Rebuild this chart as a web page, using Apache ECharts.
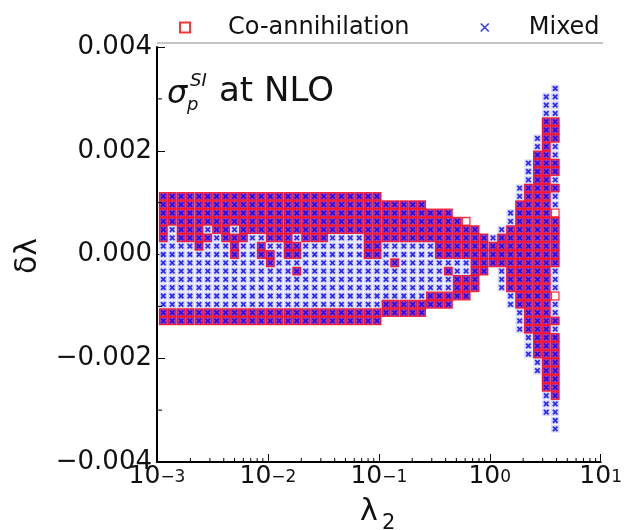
<!DOCTYPE html>
<html><head><meta charset="utf-8">
<script src="https://cdn.jsdelivr.net/npm/echarts@6/dist/echarts.min.js"></script>
<style>html,body{margin:0;padding:0;background:#fff}#c{width:625px;height:530px}</style>
</head><body><div id="c"></div>
<script>
// lambda_2 values of the scan columns (log grid)
const lambda2 = [0.00114, 0.00137, 0.00165, 0.00198, 0.00239, 0.00287, 0.00345, 0.00416, 0.00500, 0.00601,
  0.00724, 0.00871, 0.0105, 0.0126, 0.0152, 0.0182, 0.0219, 0.0264, 0.0318, 0.0382,
  0.0460, 0.0553, 0.0666, 0.0801, 0.0963, 0.116, 0.139, 0.168, 0.202, 0.243,
  0.292, 0.351, 0.423, 0.509, 0.612, 0.736, 0.886, 1.07, 1.28, 1.54,
  1.86, 2.23, 2.69, 3.23, 3.89];
// delta lambda values of the scan rows, row index r = k + 21
const deltaRows = [-0.00336, -0.0032, -0.00304, -0.00288, -0.00272, -0.00256, -0.0024, -0.00224, -0.00208, -0.00192,
  -0.00176, -0.0016, -0.00144, -0.00128, -0.00112, -0.00096, -0.0008, -0.00064, -0.00048, -0.00032,
  -0.00016, 0, 0.00016, 0.00032, 0.00048, 0.00064, 0.0008, 0.00096, 0.00112, 0.00128,
  0.00144, 0.0016, 0.00176, 0.00192, 0.00208, 0.00224, 0.0024, 0.00256, 0.00272, 0.00288,
  0.00304, 0.0032];
const rowZero = 21;
// per column: row ranges [kLow, kHigh] occupied by "Mixed" points
const mixedRanges = [
  [[-8,7]],[[-8,7]],[[-8,7]],[[-8,7]],[[-8,7]],[[-8,7]],[[-8,7]],[[-8,7]],[[-8,7]],[[-8,7]],
  [[-8,7]],[[-8,7]],[[-8,7]],[[-8,7]],[[-8,7]],[[-8,7]],[[-8,7]],[[-8,7]],[[-8,7]],[[-8,7]],
  [[-8,7]],[[-8,7]],[[-8,7]],[[-8,7]],[[-8,7]],
  [[-7,6]],[[-7,6]],[[-7,6]],[[-7,6]],[[-7,6]],
  [[-6,5]],[[-6,5]],[[-6,5]],[[-5,4]],[[-5,3]],[[-4,3]],[[-2,2]],[[-1,2]],[[-4,3]],[[-6,5]],
  [[-9,8]],[[-12,11]],[[-14,14]],[[-19,19]],[[-21,-6],[-4,4],[6,20]]
];
// per column: row ranges occupied by "Co-annihilation" points
const coRanges = [
  [[-8,-7],[2,7]],
  [[-8,-7],[4,7]],
  [[-8,-7],[2,7]],
  [[-8,-7],[2,7]],
  [[-8,-7],[1,7]],
  [[-8,-7],[2,2],[4,7]],
  [[-8,-7],[3,7]],
  [[-8,-7],[2,7]],
  [[-8,-7],[0,2],[4,7]],
  [[-8,-7],[2,7]],
  [[-8,-7],[3,7]],
  [[-8,-7],[0,1],[3,7]],
  [[-8,-7],[-1,0],[2,7]],
  [[-8,-7],[2,7]],
  [[-8,-7],[0,7]],
  [[-8,-7],[-2,-2],[0,1],[3,7]],
  [[-8,-7],[2,7]],
  [[-8,-7],[2,7]],
  [[-8,-7],[2,7]],
  [[-8,-7],[3,7]],
  [[-8,-7],[3,7]],
  [[-8,-7],[3,7]],
  [[-8,-7],[3,7]],
  [[-8,-7],[0,7]],
  [[-8,-7],[0,7]],
  [[-7,-6],[2,6]],
  [[-7,-6],[-1,-1],[2,6]],
  [[-7,-6],[2,6]],
  [[-7,-6],[2,6]],
  [[-7,-6],[2,6]],
  [[-6,-5],[2,5]],
  [[-6,-5],[0,5]],
  [[-6,-5],[-2,-2],[0,5]],
  [[-5,-3],[0,4]],
  [[-5,-3],[0,4]],
  [[-4,3]],
  [[-2,2]],
  [[-1,1]],
  [[-1,2]],
  [[-4,3]],
  [[-6,6]],
  [[-9,8]],
  [[-12,12]],
  [[-16,16]],
  [[-17,-10],[-8,-8],[-5,-5],[-1,5],[8,8],[10,11],[14,16]]
];
const xTickValues = [0.001, 0.01, 0.1, 1, 10];
const xTickExponents = ['\u22123', '\u22122', '\u22121', '0', '1'];
const yTickValues = [-0.004, -0.002, 0, 0.002, 0.004];
const yTickLabels = ['\u22120.004', '\u22120.002', '0.000', '0.002', '0.004'];

function expand(ranges) {
  const pts = [];
  ranges.forEach((rs, i) => rs.forEach(([a, b]) => {
    for (let k = a; k <= b; k++) pts.push([lambda2[i], deltaRows[k + rowZero]]);
  }));
  return pts;
}
const mixedData = expand(mixedRanges);
const coData = expand(coRanges);
const coKeys = new Set(coData.map(p => p[0] + '_' + p[1]));

// minor tick positions (axis decoration)
const xMinor = [];
for (let d = -3; d < 1; d++) for (let m = 2; m <= 9; m++) xMinor.push([m * Math.pow(10, d), -0.004]);
const yMinor = [-0.003, -0.001, 0.001, 0.003].map(v => [0.001, v]);

const FF = '"DejaVu Sans", sans-serif';
const INK = '#111';
const xMark = 'path://M0,0L10,10M10,0L0,10';
const tickLine = (dx, dy) => (p, api) => {
  const pt = api.coord([api.value(0), api.value(1)]);
  return {type: 'line', shape: {x1: pt[0], y1: pt[1], x2: pt[0] + dx, y2: pt[1] + dy}, style: {stroke: '#000', lineWidth: 1}};
};
const chart = echarts.init(document.getElementById('c'), null, {renderer: 'canvas'});
chart.setOption({
  animation: false,
  backgroundColor: '#fff',
  grid: {left: 157, right: 22, top: 47, bottom: 68},
  legend: [
    {data: [{name: 'Co-annihilation', icon: 'rect', itemStyle: {color: '#fff', borderColor: '#ff0000', borderWidth: 2}}],
     left: 179, top: 14, padding: 0, itemWidth: 10, itemHeight: 10, selectedMode: false,
     textStyle: {fontSize: 24, fontFamily: FF, color: INK, lineHeight: 24, padding: [0, 0, 3, 33]}},
    {data: [{name: 'Mixed', icon: xMark, itemStyle: {color: '#0000ff', borderColor: '#0000ff', borderWidth: 1.5}}],
     left: 480, top: 14, padding: 0, itemWidth: 8, itemHeight: 8, selectedMode: false,
     textStyle: {fontSize: 24, fontFamily: FF, color: INK, lineHeight: 24, padding: [0, 0, 3, 35]}}
  ],
  xAxis: {
    type: 'log', logBase: 10, min: 0.001, max: 10,
    axisLine: {onZero: false, lineStyle: {color: '#000', width: 2}},
    axisTick: {inside: true, length: 8, lineStyle: {color: '#000', width: 1}},
    splitLine: {show: false},
    axisLabel: {
      margin: 7, showMinLabel: true, showMaxLabel: true,
      formatter: v => {
        const e = Math.round(Math.log10(v));
        const idx = xTickValues.findIndex(t => Math.round(Math.log10(t)) === e);
        return '{b|10}{e|' + xTickExponents[idx] + '}';
      },
      rich: {
        b: {fontSize: 25, lineHeight: 20, verticalAlign: 'bottom', fontFamily: FF, color: INK},
        e: {fontSize: 17, lineHeight: 11, verticalAlign: 'top', fontFamily: FF, color: INK}
      }
    }
  },
  yAxis: {
    type: 'value', min: -0.004, max: 0.004, interval: 0.002,
    axisLine: {show: true, onZero: false, lineStyle: {color: '#000', width: 2}},
    axisTick: {inside: true, length: 8, lineStyle: {color: '#000', width: 1}},
    splitLine: {show: false},
    axisLabel: {
      margin: 5, fontSize: 26, fontFamily: FF, color: INK,
      formatter: v => {
        const idx = yTickValues.findIndex(t => Math.abs(t - v) < 1e-9);
        return idx >= 0 ? yTickLabels[idx] : '';
      }
    }
  },
  series: [
    {name: 'MixedHalo', type: 'scatter', data: mixedData, symbol: 'rect', symbolSize: [8.2, 7.6], z: 2, silent: true,
     itemStyle: {color: p => coKeys.has(p.data[0] + '_' + p.data[1]) ? '#9418a0' : '#cdcdf6'}},
    {name: 'Co-annihilation', type: 'scatter', data: coData, symbol: 'rect', symbolSize: 7.6, z: 3, silent: true,
     itemStyle: {color: 'rgba(255,255,255,0)', borderColor: '#ff0010', borderWidth: 1.3}},
    {name: 'Mixed', type: 'scatter', data: mixedData, symbol: xMark, symbolSize: 4.5, z: 4, silent: true,
     itemStyle: {color: '#0000ff', borderColor: '#0000ff', borderWidth: 1.8}},
    {name: 'xminor', type: 'custom', data: xMinor, silent: true, clip: false, z: 5, renderItem: tickLine(0, -4)},
    {name: 'yminor', type: 'custom', data: yMinor, silent: true, clip: false, z: 5, renderItem: tickLine(5, 0)}
  ],
  graphic: [
    {type: 'line', shape: {x1: 157, y1: 43, x2: 603, y2: 43}, style: {stroke: '#b0b0b0', lineWidth: 1.5}, silent: true},
    {type: 'text', x: 28, y: 256, rotation: Math.PI / 2, style: {text: 'δλ', font: '30px ' + FF, fill: INK, align: 'center', verticalAlign: 'middle'}},
    {type: 'text', x: 360, y: 512, style: {text: 'λ', font: '30px ' + FF, fill: INK, align: 'left', verticalAlign: 'middle'}},
    {type: 'text', x: 382, y: 524, style: {text: '2', font: '21px ' + FF, fill: INK, align: 'left', verticalAlign: 'middle'}},
    {type: 'text', x: 167, y: 95, style: {text: 'σ', font: 'italic 32px ' + FF, fill: INK, align: 'left', verticalAlign: 'middle'}},
    {type: 'text', x: 190, y: 81, style: {text: 'SI', font: 'italic 18px ' + FF, fill: INK, align: 'left', verticalAlign: 'middle'}},
    {type: 'text', x: 187, y: 105, style: {text: 'p', font: 'italic 18px ' + FF, fill: INK, align: 'left', verticalAlign: 'middle'}},
    {type: 'text', x: 219, y: 92, style: {text: 'at NLO', font: '34px ' + FF, fill: INK, align: 'left', verticalAlign: 'middle'}}
  ]
});
</script></body></html>
